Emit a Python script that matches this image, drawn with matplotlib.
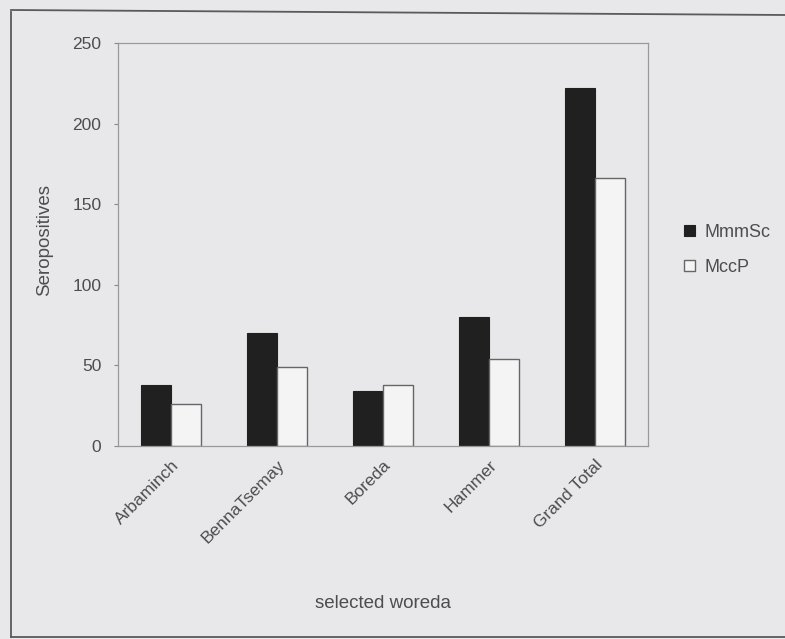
import numpy as np
import matplotlib
matplotlib.use("Agg")
import matplotlib.pyplot as plt
from matplotlib.lines import Line2D

# === Data ===
woredas = ["Arbaminch", "BennaTsemay", "Boreda", "Hammer", "Grand Total"]
mmmsc = [38, 70, 34, 80, 222]
mccp = [26, 49, 38, 54, 166]
yticks = [0, 50, 100, 150, 200, 250]

plt.rcParams["font.family"] = ["Liberation Sans", "DejaVu Sans"]
bg = "#e8e8ea"
txt = "#4d4d4d"

fig = plt.figure(figsize=(7.85, 6.39), dpi=100, facecolor=bg)
W, H = 785, 639
ax = fig.add_axes([118 / W, 1 - 446 / H, (648 - 118) / W, (446 - 43) / H])
ax.set_facecolor(bg)

# outer chart border (left, top, bottom visible in the scan)
for xs, ys in [([11, 11], [12, 637]), ([11, 785], [10, 15]), ([11, 785], [637, 637])]:
    fig.add_artist(Line2D([v / W for v in xs], [1 - v / H for v in ys],
                          transform=fig.transFigure, color="#5a5a5a", linewidth=1.3))

# === Bars (Excel style, gap width 150%) ===
x = np.arange(len(woredas))
bw = 0.286
ax.bar(x - bw / 2, mmmsc, bw, color="#202020", edgecolor="#202020", linewidth=0.8, label="MmmSc")
ax.bar(x + bw / 2, mccp, bw, color="#f4f4f4", edgecolor="#666666", linewidth=1.0, label="MccP")

ax.set_xlim(-0.5, len(woredas) - 0.5)
ax.set_ylim(0, 250)
ax.set_yticks(yticks)
ax.set_xticks(x)
ax.set_xticklabels(woredas, rotation=45, ha="right", rotation_mode="anchor", color=txt, fontsize=12.5)
ax.tick_params(axis="y", colors="#888888", labelcolor=txt, labelsize=12.5, length=3, pad=9)
ax.tick_params(axis="x", length=0, pad=8)

for s in ax.spines.values():
    s.set_color("#999999")
    s.set_linewidth(0.9)

fig.text(45 / W, 1 - 240 / H, "Seropositives", rotation=90, ha="center", va="center",
         color=txt, fontsize=13.5)
fig.text(383 / W, 1 - 604 / H, "selected woreda", ha="center", va="center", color=txt, fontsize=13.5)

leg = fig.legend(loc="center left", bbox_to_anchor=(668 / W, 1 - 250 / H), frameon=False,
                 fontsize=13, handlelength=0.6, handleheight=0.6, handletextpad=0.5,
                 labelspacing=1.0, labelcolor=txt)

fig.savefig("out.png", dpi=100, facecolor=bg)
